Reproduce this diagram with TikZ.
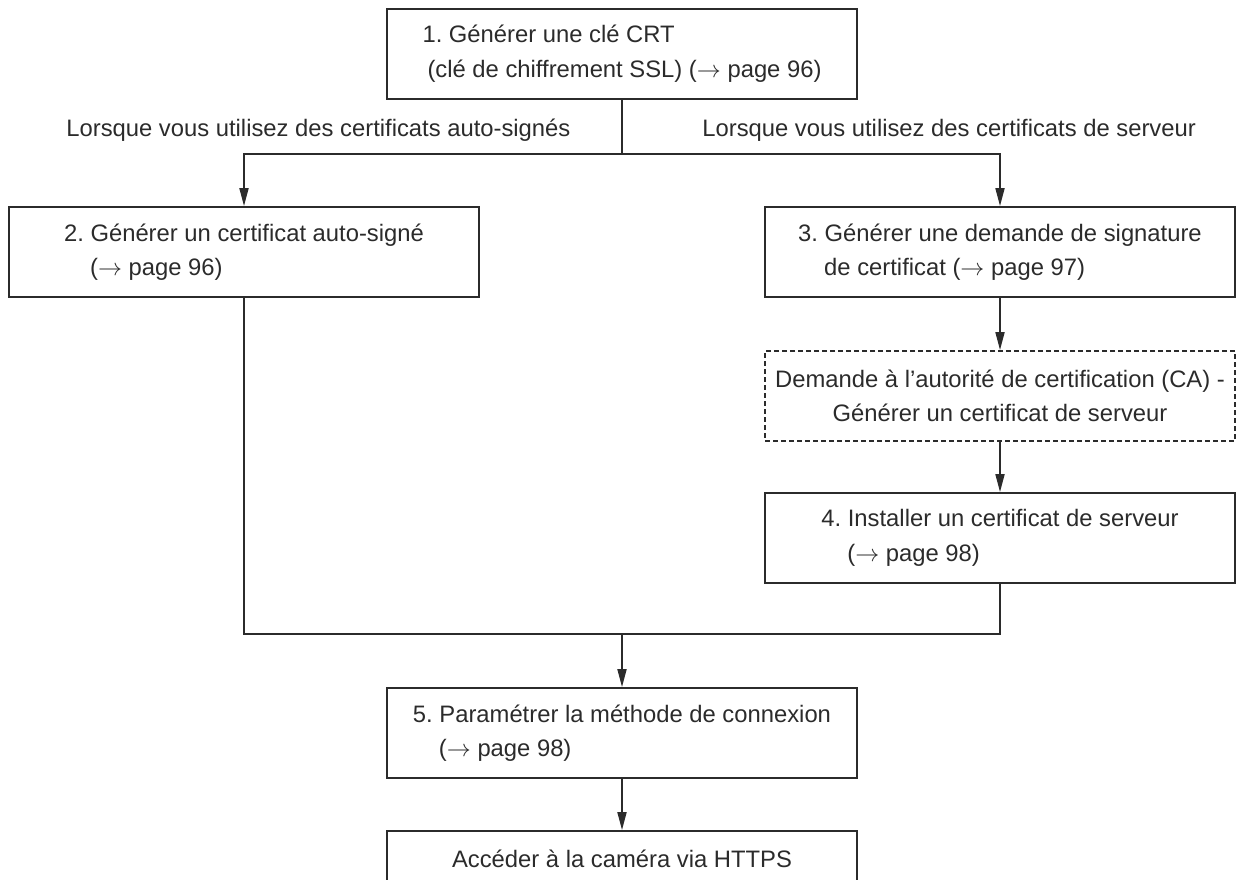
\documentclass[tikz,border=0pt]{standalone}
\usepackage{fontspec}
\setmainfont{Liberation Sans}
\usetikzlibrary{positioning, arrows.meta}
\definecolor{inkgray}{HTML}{2B2B2B}
\frenchspacing
\newcommand{\pgref}[1]{($\rightarrow$ page #1)}

\begin{document}
\begin{tikzpicture}[x=0.5pt, y=-0.5pt, >={Triangle[length=9pt, width=4.5pt]},
    every node/.style={font=\fontsize{11.9pt}{17.3pt}\selectfont, text=inkgray},
    stepbox/.style={draw=inkgray, line width=0.9pt, align=left, minimum width=235pt, minimum height=45pt, inner sep=2pt},
    cabox/.style={stepbox, dash pattern=on 2.5pt off 1.5pt, align=center},
    link/.style={draw=inkgray, line width=0.9pt}]
    \useasboundingbox (0,0) rectangle (1236,879);

    % steps
    \node[stepbox] (crt) at (622,54) {1. Générer une clé CRT\\\hspace*{2.5pt}(clé de chiffrement SSL) \pgref{96}};
    \node[stepbox] (selfcert) at (244,252) {2. Générer un certificat auto-signé\\\hspace*{13pt}\pgref{96}};
    \node[stepbox] (csr) at (1000,252) {3. Générer une demande de signature\\\hspace*{13pt}de certificat \pgref{97}};
    \node[cabox] (ca) at (1000,396) {Demande à l’autorité de certification (CA) -\\Générer un certificat de serveur};
    \node[stepbox] (install) at (1000,538) {4. Installer un certificat de serveur\\\hspace*{13pt}\pgref{98}};
    \node[stepbox] (method) at (622,733) {5. Paramétrer la méthode de connexion\\\hspace*{13pt}\pgref{98}};
    \node[stepbox, align=center, minimum height=28pt] (https) at (622,859) {Accéder à la caméra via HTTPS};

    % branch labels
    \node[anchor=base west, inner sep=0pt] (selflbl) at (66,136) {Lorsque vous utilisez des certificats auto-signés};
    \node[anchor=base west, inner sep=0pt] (srvlbl) at (702,136) {Lorsque vous utilisez des certificats de serveur};

    \coordinate (split) at (622,154);
    \coordinate (merge) at (622,634);

    \draw[link] (crt) -- (split);
    \draw[link, ->] (split) -| (selfcert);
    \draw[link, ->] (split) -| (csr);
    \draw[link, ->] (csr) -- (ca);
    \draw[link, ->] (ca) -- (install);
    \draw[link] (selfcert) |- (merge) -| (install);
    \draw[link, ->] (merge) -- (method);
    \draw[link, ->] (method) -- (https);
\end{tikzpicture}
\end{document}
